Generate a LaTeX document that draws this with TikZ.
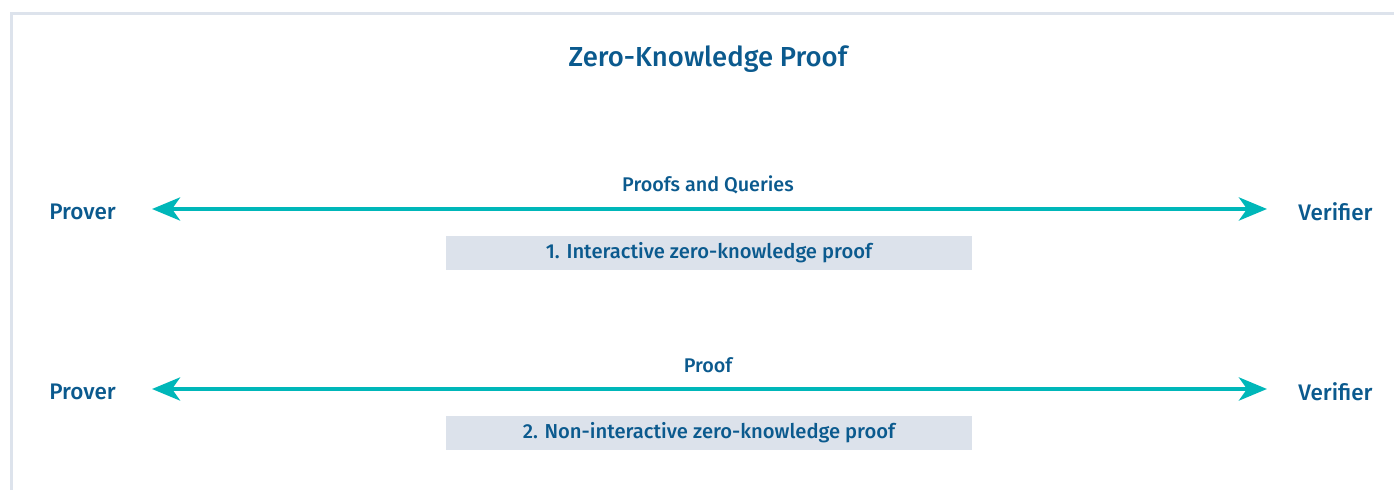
\documentclass[tikz,border=0pt]{standalone}
\usepackage{fontspec}
\setmainfont{Fira Sans}[UprightFont=* Medium]
\usetikzlibrary{arrows.meta}
\definecolor{zkblue}{HTML}{0B5A8E}
\definecolor{zkteal}{HTML}{00B7B9}
\definecolor{zkbox}{HTML}{DCE2EB}
\definecolor{zkframe}{HTML}{DDE3EC}
\tikzset{
  party/.style={text=zkblue, font=\fontsize{22.5}{26}\selectfont, inner sep=0pt},
  msglabel/.style={text=zkblue, font=\fontsize{19.8}{23}\selectfont, inner sep=0pt},
  kindbox/.style={fill=zkbox, text=zkblue, font=\fontsize{20.2}{23}\selectfont, minimum width=526pt, minimum height=34pt, inner sep=0pt},
  flow/.style={draw=zkteal, line width=4.5pt, {Stealth[length=28pt,width=23pt,inset=8pt]}-{Stealth[length=28pt,width=23pt,inset=8pt]}, shorten <=0pt, shorten >=0pt},
}
\begin{document}
\begin{tikzpicture}[x=1pt,y=1pt]
\useasboundingbox (0,0) rectangle (1394,490);
\fill[white] (0,0) rectangle (1394,490);
\draw[zkframe, line width=3pt] (11.5,0) -- (11.5,476.5) -- (1394,476.5);
\node[text=zkblue, font=\fontsize{27.5}{32}\selectfont, inner sep=0pt] (title) at (708,431) {Zero-Knowledge Proof};
% row 1
\node[party] (p1) at (82.5,278) {Prover};
\node[party] (v1) at (1335.5,278) {Verifier};
\coordinate (a1l) at (152,281);
\coordinate (a1r) at (1267,281);
\draw[flow] (a1l) -- (a1r);
\node[msglabel] (m1) at (708,305) {Proofs and Queries};
\node[kindbox] (k1) at (709,237) {1. Interactive zero-knowledge proof};
% row 2
\node[party] (p2) at (82.5,98) {Prover};
\node[party] (v2) at (1335.5,98) {Verifier};
\coordinate (a2l) at (152,101);
\coordinate (a2r) at (1267,101);
\draw[flow] (a2l) -- (a2r);
\node[msglabel] (m2) at (708,125) {Proof};
\node[kindbox] (k2) at (709,57) {2. Non-interactive zero-knowledge proof};
\end{tikzpicture}
\end{document}
